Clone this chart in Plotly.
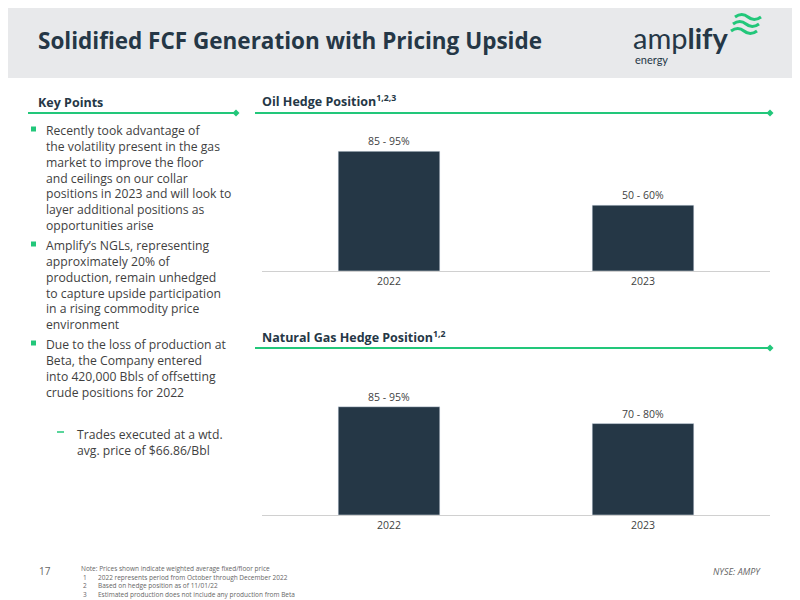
import plotly.graph_objects as go
from plotly.subplots import make_subplots

years = ["2022", "2023"]
oil_values = [90, 49.5]
oil_labels = ["85 - 95%", "50 - 60%"]
gas_values = [90, 76]
gas_labels = ["85 - 95%", "70 - 80%"]

NAVY = "#253746"
GREEN = "#22c77a"
TXT = "#3f3f3f"
FONT = "Open Sans"

# the page has an 8px body margin, so the figure starts at (8, 8)
OFF = 8
W, H = 800 - OFF, 600 - OFF
def px(x): return (x - OFF) / W
def py(y): return 1 - (y - OFF) / H

fig = make_subplots(rows=2, cols=1)
fig.add_trace(go.Bar(x=years, y=oil_values, text=oil_labels, textposition="outside",
                     marker_color=NAVY, cliponaxis=False,
                     textfont=dict(size=10.5, color=TXT)), row=1, col=1)
fig.add_trace(go.Bar(x=years, y=gas_values, text=gas_labels, textposition="outside",
                     marker_color=NAVY, cliponaxis=False,
                     textfont=dict(size=10.5, color=TXT)), row=2, col=1)

fig.update_layout(
    width=W, height=H, margin=dict(l=0, r=0, t=0, b=0),
    paper_bgcolor="white", plot_bgcolor="white", showlegend=False, bargap=0.6,
    font=dict(family=FONT, color=TXT),
    xaxis=dict(domain=[px(262), px(770)], anchor="y"),
    yaxis=dict(domain=[py(271), py(118)], range=[0, 115]),
    xaxis2=dict(domain=[px(262), px(770)], anchor="y2"),
    yaxis2=dict(domain=[py(515), py(355)], range=[0, 133]),
)
fig.update_xaxes(showline=True, linecolor="#d0d0d0", linewidth=1, ticks="",
                 tickfont=dict(size=10.5, color=TXT), showgrid=False)
fig.update_yaxes(visible=False, showgrid=False)

shapes = [dict(type="rect", xref="paper", yref="paper", x0=0, x1=1, y0=py(78), y1=1,
               fillcolor="#e8e9eb", line_width=0, layer="below")]
# section rules with diamond ends
for x0, x1, y in [(28, 236, 113), (255, 770, 113), (255, 770, 348)]:
    shapes.append(dict(type="line", xref="paper", yref="paper", x0=px(x0), x1=px(x1),
                       y0=py(y), y1=py(y), line=dict(color=GREEN, width=2)))
    d = 3.5
    shapes.append(dict(type="path", xref="paper", yref="paper",
                       path=f"M {px(x1-d)} {py(y)} L {px(x1)} {py(y-d)} L {px(x1+d)} {py(y)} L {px(x1)} {py(y+d)} Z",
                       fillcolor=GREEN, line_width=0))
# logo waves
for i, yy in enumerate([17, 24, 31]):
    x0 = 735 - i * 2
    shapes.append(dict(type="path", xref="paper", yref="paper",
                       path=f"M {px(x0)} {py(yy)} Q {px(x0+7)} {py(yy-5)} {px(x0+13)} {py(yy)} T {px(x0+26)} {py(yy)}",
                       line=dict(color=GREEN, width=3)))
# bullet squares
for y in [129, 244, 343]:
    shapes.append(dict(type="rect", xref="paper", yref="paper", x0=px(31), x1=px(36),
                       y0=py(y + 2.5), y1=py(y - 2.5), fillcolor=GREEN, line_width=0))
shapes.append(dict(type="line", xref="paper", yref="paper", x0=px(57), x1=px(64),
                   y0=py(432), y1=py(432), line=dict(color=GREEN, width=1.5)))
fig.update_layout(shapes=shapes)

ann = []
def add(x, y, text, size=12, color=TXT, anchor="left", yanchor="middle", family=FONT):
    ann.append(dict(x=px(x), y=py(y), xref="paper", yref="paper", text=text, showarrow=False,
                    xanchor=anchor, yanchor=yanchor, align="left", borderpad=0,
                    font=dict(size=size, color=color, family=family)))

add(37, 41, "<b>Solidified FCF Generation with Pricing Upside</b>", size=22.5, color=NAVY)
add(632, 38, "amp<b>lify</b>", size=29, color=NAVY, family="Lato")
add(634, 60, "energy", size=11, color=NAVY, family="Lato")
add(37, 102, "<b>Key Points</b>", size=12.5, color=NAVY)
add(261, 101, "<b>Oil Hedge Position<sup>1,2,3</sup></b>", size=12.5, color=NAVY)
add(261, 337, "<b>Natural Gas Hedge Position<sup>1,2</sup></b>", size=12.5, color=NAVY)

bullets = [
    (121, ["Recently took advantage of", "the volatility present in the gas", "market to improve the floor",
           "and ceilings on our collar", "positions in 2023 and will look to",
           "layer additional positions as", "opportunities arise"]),
    (236, ["Amplify’s NGLs, representing", "approximately 20% of", "production, remain unhedged",
           "to capture upside participation", "in a rising commodity price", "environment"]),
    (335, ["Due to the loss of production at", "Beta, the Company entered",
           "into 420,000 Bbls of offsetting", "crude positions for 2022"]),
    (425, ["Trades executed at a wtd.", "avg. price of $66.86/Bbl"]),
]
for i, (y, lines) in enumerate(bullets):
    add(76 if i == 3 else 45, y, "<br>".join(lines), size=12.2, yanchor="top")

add(38, 571, "17", size=10, color="#666666")
add(80, 563, "Note: Prices shown indicate weighted average fixed/floor price", size=6.5,
    color="#666666", yanchor="top")
add(82, 571.5, "1<br>2<br>3", size=6.5, color="#666666", yanchor="top")
add(97, 571.5, "2022 represents period from October through December 2022<br>"
    "Based on hedge position as of 11/01/22<br>"
    "Estimated production does not include any production from Beta",
    size=6.5, color="#666666", yanchor="top")
add(762, 571, "<i>NYSE: AMPY</i>", size=9, color="#666666", anchor="right")
fig.update_layout(annotations=ann)

fig.write_html("out.html")
